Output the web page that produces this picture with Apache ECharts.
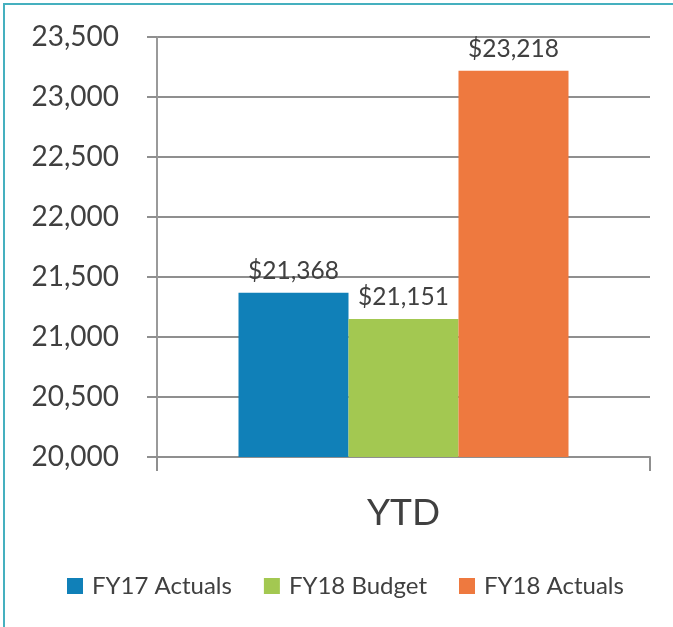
<!DOCTYPE html>
<html>
<head>
    <meta charset="utf-8">
    <title>YTD</title>
    <script src="https://cdn.jsdelivr.net/npm/echarts@6/dist/echarts.min.js"></script>
    <style>
        html, body { margin: 0; padding: 0; background: #fff; }
        #frame { position: absolute; left: 3px; top: 3px; width: 700px; height: 700px; border: 2px solid #45b0bf; box-sizing: border-box; }
        #main { position: absolute; left: 0; top: 0; width: 673px; height: 627px; }
    </style>
</head>
<body>
    <div id="frame"></div>
    <div id="main"></div>
    <script type="text/javascript">
        // data
        var categories = ['YTD'];
        var seriesNames = ['FY17 Actuals', 'FY18 Budget', 'FY18 Actuals'];
        var seriesValues = [21368, 21151, 23218];
        var seriesColors = ['#1080b8', '#a3c851', '#ee793f'];

        function fmt(v) {
            return String(v).replace(/\B(?=(\d{3})+(?!\d))/g, ',');
        }

        var series = [];
        for (var i = 0; i < seriesNames.length; i++) {
            series.push({
                name: seriesNames[i],
                type: 'bar',
                barWidth: 110,
                barGap: '0%',
                itemStyle: { color: seriesColors[i] },
                label: {
                    show: true,
                    position: 'top',
                    distance: 9,
                    fontFamily: 'Lato',
                    fontSize: 24.5,
                    color: '#404040',
                    formatter: function (p) { return '$' + fmt(p.value); }
                },
                data: [seriesValues[i]]
            });
        }

        var myChart = echarts.init(document.getElementById('main'));
        var option = {
            animation: false,
            textStyle: { fontFamily: 'Lato' },
            grid: { left: 157, right: 23, top: 37, bottom: 170 },
            legend: {
                data: seriesNames,
                left: 62,
                top: 569,
                icon: 'rect',
                itemWidth: 16,
                itemHeight: 16,
                itemGap: 32,
                textStyle: { fontFamily: 'Lato', fontSize: 24, color: '#404040', padding: [0, 0, 0, 4] }
            },
            xAxis: {
                type: 'category',
                data: categories,
                axisLine: { lineStyle: { color: '#8f8f8f', width: 2 } },
                axisTick: { show: true, length: 14, lineStyle: { color: '#8f8f8f', width: 2 } },
                axisLabel: { fontFamily: 'Lato', fontSize: 37, color: '#404040', margin: 38 }
            },
            yAxis: {
                type: 'value',
                min: 20000,
                max: 23500,
                interval: 500,
                axisLine: { show: true, lineStyle: { color: '#9a9a9a', width: 2 } },
                axisTick: { show: true, length: 10, lineStyle: { color: '#8f8f8f', width: 2 } },
                splitLine: { lineStyle: { color: '#8f8f8f', width: 2 } },
                axisLabel: { fontFamily: 'Lato', fontSize: 28, color: '#404040', margin: 38, formatter: fmt }
            },
            series: series
        };
        myChart.setOption(option);
    </script>
</body>
</html>
